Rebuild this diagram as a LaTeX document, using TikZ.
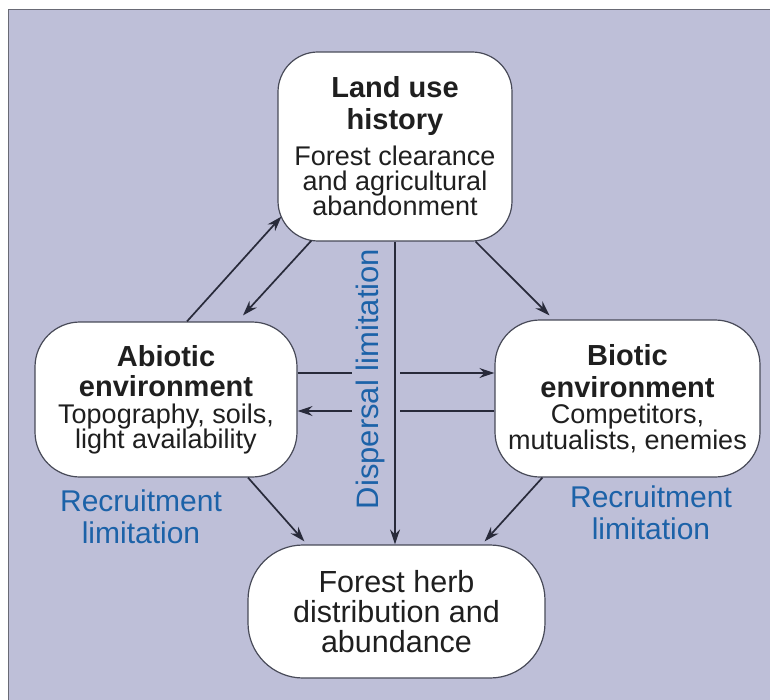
\documentclass[tikz,border=0pt]{standalone}
\usepackage{fontspec}
\setmainfont{Liberation Sans}
\usepackage{xcolor}
\usepackage{tikz}
\usetikzlibrary{arrows.meta}

\definecolor{panel}{RGB}{190,191,216}
\definecolor{ink}{RGB}{40,42,58}
\definecolor{labelblue}{RGB}{28,98,168}
\newcommand{\bodysize}{\fontsize{27}{25}\selectfont}
\newcommand{\headsize}{\fontsize{29}{25}\selectfont\bfseries}
\lineskiplimit=-100pt

\begin{document}
\begin{tikzpicture}[x=1pt, y=-1pt,
  box/.style={draw=ink!85, fill=white, line width=1.2pt, align=center, inner sep=0pt, text=black!88, font=\bodysize},
  link/.style={draw=ink, line width=1.7pt},
  arrow/.style={link, -{Stealth[length=15pt, width=10pt]}},
  note/.style={text=labelblue, align=center, font=\fontsize{30}{32}\selectfont}]
\useasboundingbox (0,0) rectangle (770,700);
\fill[panel] (8,10) rectangle (770,700);
\draw[ink!70, line width=1pt] (8,700) -- (8,10) -- (770,10);

\node[box, rounded corners=40pt, minimum width=234pt, minimum height=189pt] (land) at (395,146.5)
  {{\headsize Land use}\\[7pt]{\headsize history}\\[11pt]Forest clearance\\and agricultural\\abandonment};
\node[box, rounded corners=45pt, minimum width=262pt, minimum height=155pt] (abiotic) at (166,399.5)
  {{\headsize Abiotic}\\[5pt]{\headsize environment}\\[2pt]Topography, soils,\\light availability};
\node[box, rounded corners=45pt, minimum width=265pt, minimum height=157pt] (biotic) at (627.5,398.5)
  {{\headsize Biotic}\\[7pt]{\headsize environment}\\[1pt]Competitors,\\[1pt]mutualists, enemies};
\node[box, rounded corners=55pt, minimum width=297pt, minimum height=133pt, font=\fontsize{30.5}{30}\selectfont] (herb) at (396.5,611.5)
  {Forest herb\\distribution and\\abundance};

\coordinate (upL) at (352,373);
\coordinate (upR) at (400,373);
\coordinate (loL) at (352,411);
\coordinate (loR) at (400,411);

\draw[arrow] ([shift={(21,0)}]abiotic.north) -- ([shift={(4,-25)}]land.south west);
\draw[arrow] ([shift={(34,-1)}]land.south west) -- ([shift={(77,-6)}]abiotic.north);
\draw[arrow] ([shift={(-37,0)}]land.south east) -- ([shift={(-78,-4)}]biotic.north);

\draw[link] (upL -| abiotic.east) -- (upL);
\draw[arrow] (upR) -- (upR -| biotic.west);
\draw[link] (loR -| biotic.west) -- (loR);
\draw[arrow] (loL) -- (loL -| abiotic.east);

\draw[arrow] (land.south) -- (land.south |- herb.north);
\draw[arrow] ([shift={(82,0)}]abiotic.south) -- ([shift={(57,-3)}]herb.north west);
\draw[arrow] ([shift={(48,0)}]biotic.south west) -- ([shift={(-61,-3)}]herb.north east);

\node[note, rotate=90, font=\fontsize{31}{32}\selectfont] (disp) at (370,379) {Dispersal limitation};
\node[note] (recL) at (141,517) {Recruitment\\limitation};
\node[note] (recR) at (651,513) {Recruitment\\limitation};
\end{tikzpicture}
\end{document}
